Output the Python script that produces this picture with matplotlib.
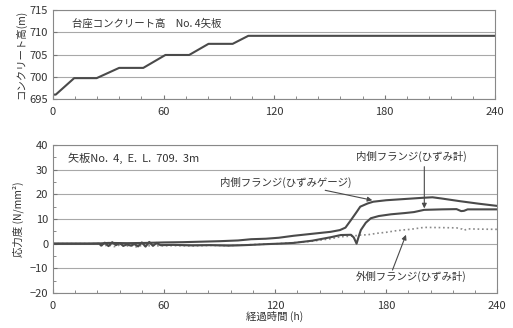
import matplotlib
matplotlib.use('Agg')
from matplotlib import pyplot as plt
from matplotlib.ticker import MultipleLocator

plt.rcParams['font.family'] = ['Noto Sans CJK JP', 'DejaVu Sans']

# top chart: concrete height (m)
conc_hours = [0, 1.5, 11.5, 23.7, 35.9, 49, 61, 73.9, 84.4, 97.5, 106, 240]
conc_level = [696.0, 696.0, 699.7, 699.7, 702.0, 702.0, 704.9, 704.9, 707.4, 707.4, 709.2, 709.2]

# bottom chart: stress (N/mm2)
gauge_hours = [0, 10, 20, 25, 30, 40, 50, 60, 70, 80, 90, 100, 107, 115, 122, 130, 140, 150, 155, 158,
               161, 164, 166, 170, 173, 180, 190, 200, 205, 210, 220, 230, 240]
gauge_vals = [0, 0, 0, 0.1, 0.3, 0.2, 0.3, 0.5, 0.6, 0.8, 1.0, 1.3, 1.8, 2.0, 2.4, 3.2, 4.0, 4.8, 5.5, 6.5,
              9.6, 12.8, 15.0, 16.3, 17.0, 17.6, 18.1, 18.6, 18.8, 18.3, 17.2, 16.2, 15.3]

inner_hours = [0, 10, 20, 25, 26, 28, 30, 32, 34, 36, 38, 40, 42, 44, 46, 48, 50, 52, 54, 56, 58,
               65, 75, 85, 95, 100, 107, 115, 122, 130, 140, 150, 155.5, 161, 162.5, 164, 165,
               166.3, 169, 171.7, 176, 182.6, 190, 195, 200.5, 210, 218, 220.5, 222, 224, 230, 240]
inner_vals = [0, 0, 0, 0, -0.8, 0.4, -1.0, 0.6, -0.6, 0.2, -0.9, -0.3, -0.8, -0.2, -1.1, 0.5, -1.2, 0.7, -0.9, 0.3, -0.6,
              -0.5, -0.7, -0.6, -0.8, -0.7, -0.5, -0.2, 0.0, 0.3, 1.2, 2.6, 3.5, 3.6, 2.5, 0.0, 2.5,
              5.5, 8.5, 10.3, 11.2, 11.9, 12.4, 12.8, 13.7, 13.9, 14.0, 13.2, 13.3, 13.9, 13.9, 13.9]

outer_hours = [0, 10, 20, 25, 27, 30, 33, 36, 39, 42, 45, 48, 51, 54, 57, 65, 75, 85, 95, 100, 107,
               115, 122, 130, 140, 150, 155.5, 162, 166.3, 170, 175, 180, 185, 189.8, 193, 200.5, 210,
               218, 221, 222, 224, 230, 240]
outer_vals = [0, 0, 0, 0, -1.0, -0.5, -1.2, -0.6, -1.0, -0.8, -1.3, -0.7, -1.0, -0.6, -0.9, -0.8, -0.9, -0.7, -0.8, -0.6, -0.4,
              -0.2, 0.0, 0.4, 1.0, 2.0, 2.8, 3.1, 3.5, 3.6, 4.2, 4.6, 5.2, 5.6, 5.8, 6.6, 6.5,
              6.4, 5.9, 5.4, 6.0, 5.9, 5.8]

x_ticks = [0, 60, 120, 180, 240]

fig = plt.figure(figsize=(5.13, 3.28), dpi=100)
ax_top = fig.add_axes([0.1033, 0.698, 0.862, 0.2715])
ax_bot = fig.add_axes([0.1033, 0.1067, 0.866, 0.4513])

line_col = '#4a4a4a'
grid_col = '#a8a8a8'
text_col = '#333333'

for ax in (ax_top, ax_bot):
    ax.set_xlim(0, 240)
    ax.set_xticks(x_ticks)
    ax.xaxis.set_minor_locator(MultipleLocator(12))
    ax.tick_params(axis='both', which='both', direction='in', colors='#777777',
                   labelcolor=text_col, labelsize=8, length=3)
    ax.tick_params(axis='both', which='minor', length=2)
    ax.tick_params(axis='x', pad=6)
    for spine in ax.spines.values():
        spine.set_color('#888888')
        spine.set_linewidth(0.8)
    ax.yaxis.grid(True, color=grid_col, linewidth=0.8)
    ax.set_axisbelow(True)

# TOP CHART
ax_top.plot(conc_hours, conc_level, color=line_col, linewidth=1.5)
ax_top.set_ylim(695, 715)
ax_top.set_yticks([695, 700, 705, 710, 715])
ax_top.set_ylabel('コンクリート高(m)', fontsize=7.5, color=text_col, labelpad=2)
ax_top.text(10.5, 712, '台座コンクリート高　No. 4矢板', fontsize=7.5, color=text_col, va='center')

# BOTTOM CHART
ax_bot.plot(outer_hours, outer_vals, color='#8a8a8a', linewidth=1.2, linestyle=':')
ax_bot.plot(gauge_hours, gauge_vals, color=line_col, linewidth=1.5)
ax_bot.plot(inner_hours, inner_vals, color=line_col, linewidth=1.5)
ax_bot.set_ylim(-20, 40)
ax_bot.set_yticks(range(-20, 41, 10))
ax_bot.yaxis.set_minor_locator(MultipleLocator(5))
ax_bot.set_ylabel('応力度 (N/mm²)', fontsize=7.5, color=text_col, labelpad=4)
ax_bot.set_xlabel('経過時間 (h)', fontsize=7.5, color=text_col, labelpad=0)
ax_bot.text(8, 34.6, '矢板No.  4,  E.  L.  709.  3m', fontsize=8, color=text_col, va='center')

arrow = dict(arrowstyle='-|>', color=line_col, lw=0.8, mutation_scale=7, shrinkA=0, shrinkB=0)
ax_bot.annotate('内側フランジ(ひずみゲージ)', xy=(172.5, 17.6), xytext=(125.7, 25),
                fontsize=7.5, color=text_col, ha='center', va='center', arrowprops=arrow)
ax_bot.annotate('', xy=(200.6, 14.3), xytext=(200.6, 31.2), arrowprops=arrow)
ax_bot.text(193.4, 35.3, '内側フランジ(ひずみ計)', fontsize=7.5, color=text_col, ha='center', va='center')
ax_bot.annotate('', xy=(190.7, 3.6), xytext=(183.4, -10.7), arrowprops=arrow)
ax_bot.text(193.4, -13.4, '外側フランジ(ひずみ計)', fontsize=7.5, color=text_col, ha='center', va='center')

plt.savefig('out.png', dpi=100)
